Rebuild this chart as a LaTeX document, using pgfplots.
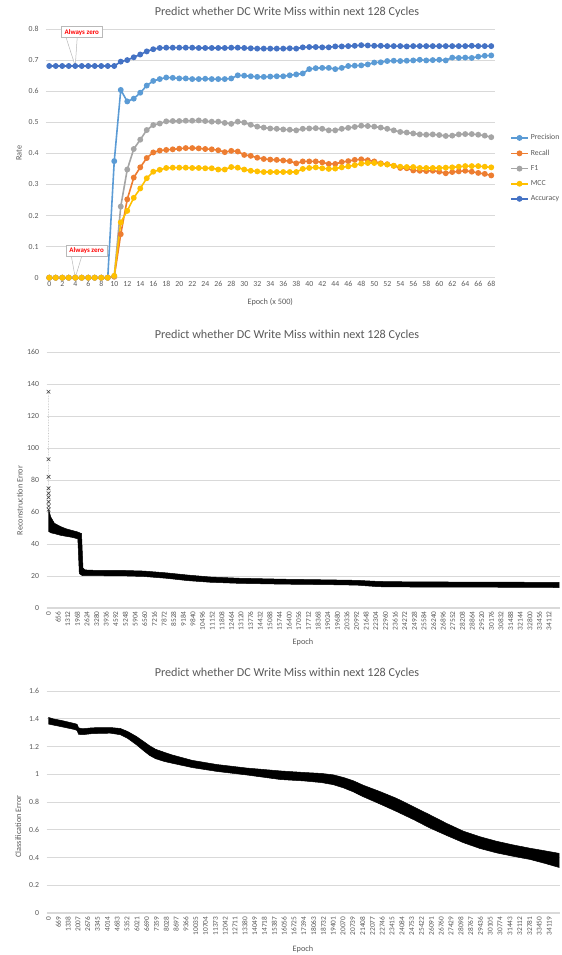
\documentclass[border=0pt]{standalone}
\usepackage{fontspec}
\setmainfont{Carlito}
\usepackage{pgfplots}
\pgfplotsset{compat=1.18}
\definecolor{txt}{HTML}{595959}
\definecolor{gridc}{HTML}{D9D9D9}
\definecolor{cPrec}{HTML}{5B9BD5}
\definecolor{cRec}{HTML}{ED7D31}
\definecolor{cF1}{HTML}{A5A5A5}
\definecolor{cMCC}{HTML}{FFC000}
\definecolor{cAcc}{HTML}{4472C4}
\pgfplotsset{
  excel/.style={
    scale only axis,
    axis line style={draw=none},
    tick style={draw=none},
    major tick length=0pt,
    ymajorgrids,
    grid style={color=gridc, line width=0.7bp},
    tick label style={font=\fontsize{7.8}{8.5}\selectfont, text=txt},
    yticklabel style={xshift=-4bp},
    label style={font=\fontsize{8.3}{9}\selectfont, text=txt},
    /pgf/number format/assume math mode=true,
    scaled x ticks=false, scaled y ticks=false,
  },
  ser/.style={color=#1, line width=1.6bp, mark=*, mark size=2.1bp, mark options={fill=#1, draw=#1}},
}
\pgfplotstableread{
x prec rec f1 mcc acc
0 0 0 0 0 0.681
1 0 0 0 0 0.681
2 0 0 0 0 0.681
3 0 0 0 0 0.681
4 0 0 0 0 0.681
5 0 0 0 0 0.681
6 0 0 0 0 0.681
7 0 0 0 0 0.681
8 0 0 0 0 0.681
9 0 0 0 0 0.681
10 0.375 0.003 0.005 0.006 0.681
11 0.604 0.140 0.229 0.178 0.695
12 0.567 0.252 0.348 0.215 0.700
13 0.576 0.322 0.414 0.257 0.709
14 0.595 0.355 0.444 0.287 0.718
15 0.618 0.385 0.475 0.320 0.728
16 0.633 0.403 0.491 0.341 0.735
17 0.639 0.409 0.496 0.347 0.739
18 0.644 0.411 0.503 0.353 0.740
19 0.643 0.413 0.504 0.354 0.740
20 0.641 0.415 0.504 0.354 0.740
21 0.641 0.417 0.505 0.354 0.740
22 0.639 0.417 0.505 0.353 0.740
23 0.639 0.416 0.506 0.353 0.739
24 0.640 0.414 0.504 0.352 0.739
25 0.639 0.413 0.502 0.352 0.739
26 0.639 0.410 0.502 0.348 0.739
27 0.639 0.404 0.498 0.348 0.739
28 0.641 0.408 0.495 0.356 0.740
29 0.651 0.406 0.502 0.354 0.740
30 0.650 0.395 0.499 0.348 0.739
31 0.648 0.392 0.492 0.344 0.738
32 0.646 0.386 0.486 0.342 0.737
33 0.646 0.382 0.483 0.340 0.737
34 0.647 0.380 0.480 0.340 0.737
35 0.648 0.379 0.479 0.340 0.737
36 0.648 0.377 0.477 0.340 0.737
37 0.651 0.375 0.476 0.340 0.738
38 0.654 0.368 0.474 0.340 0.737
39 0.657 0.374 0.479 0.350 0.741
40 0.671 0.374 0.480 0.353 0.742
41 0.674 0.374 0.481 0.355 0.742
42 0.675 0.371 0.479 0.352 0.741
43 0.675 0.366 0.474 0.350 0.741
44 0.671 0.366 0.474 0.351 0.744
45 0.675 0.372 0.479 0.355 0.744
46 0.681 0.375 0.482 0.358 0.745
47 0.682 0.379 0.485 0.362 0.746
48 0.683 0.381 0.489 0.367 0.748
49 0.686 0.378 0.488 0.369 0.747
50 0.692 0.374 0.486 0.369 0.746
51 0.693 0.368 0.483 0.366 0.746
52 0.697 0.365 0.479 0.364 0.745
53 0.698 0.360 0.474 0.360 0.745
54 0.697 0.353 0.469 0.357 0.745
55 0.698 0.352 0.467 0.356 0.744
56 0.699 0.345 0.464 0.356 0.745
57 0.701 0.344 0.461 0.353 0.745
58 0.699 0.343 0.460 0.353 0.745
59 0.700 0.344 0.461 0.353 0.745
60 0.701 0.341 0.459 0.353 0.745
61 0.699 0.336 0.456 0.354 0.745
62 0.708 0.340 0.457 0.355 0.745
63 0.707 0.342 0.461 0.357 0.745
64 0.708 0.344 0.462 0.359 0.745
65 0.707 0.341 0.462 0.359 0.746
66 0.711 0.337 0.460 0.359 0.745
67 0.714 0.334 0.457 0.357 0.745
68 0.715 0.329 0.452 0.355 0.745
}\rates
% Reconstruction error band: upper edge (left to right), then lower edge (right to left)
\pgfplotstableread{
x y
0 62
150 57
400 53
800 51
1200 49.5
1600 48.5
2000 47.5
2250 46.5
2350 25
2500 23.8
3000 23.6
5000 23.5
6500 23.1
8000 22.0
9500 20.6
11000 19.4
13000 18.6
16000 18.0
19000 17.6
21000 17.3
22500 16.6
25000 16.3
30000 16.2
34800 16.0
34800 12.8
30000 13.0
25000 13.1
22500 13.3
21000 14.3
19000 14.6
16000 14.9
13000 15.4
11000 16.1
9500 17.1
8000 18.6
6500 19.7
5000 20.1
3000 20.2
2300 20.3
2100 21.5
2000 43.2
1600 44.2
1200 44.8
800 45.5
400 46.5
150 47
0 48
}\recband
% Classification error band: upper edge, then lower edge reversed
\pgfplotstableread{
x y
0 1.410
300 1.400
1000 1.385
1800 1.365
1950 1.360
2050 1.335
2300 1.328
3000 1.335
4200 1.337
4900 1.330
5400 1.308
6000 1.272
6500 1.235
6900 1.205
7300 1.180
7900 1.158
8400 1.140
9800 1.100
11500 1.070
13500 1.045
15800 1.024
17400 1.013
18600 1.006
19400 0.996
20100 0.977
20800 0.952
21450 0.921
22600 0.875
23730 0.826
24900 0.765
26000 0.707
27150 0.645
28270 0.590
29400 0.550
30545 0.517
31700 0.490
32815 0.467
33850 0.448
34800 0.430
34800 0.328
33850 0.357
32815 0.386
31700 0.408
30545 0.433
29400 0.465
28270 0.507
27150 0.558
26000 0.612
24900 0.672
23730 0.731
22600 0.785
21450 0.838
20800 0.872
20100 0.902
19400 0.925
18600 0.940
17400 0.952
15800 0.962
13500 0.995
11500 1.020
9800 1.048
8400 1.080
7900 1.092
7300 1.112
6900 1.135
6500 1.168
6000 1.212
5400 1.258
4900 1.285
4200 1.296
3000 1.293
2300 1.285
2050 1.288
1950 1.315
1800 1.322
1000 1.340
300 1.355
0 1.362
}\clsband
\begin{document}
\begin{tikzpicture}
\useasboundingbox (0,0) rectangle (562bp,-955bp);
\node[font=\fontsize{12.2}{14}\selectfont, text=txt] at (287bp,-12.5bp) {Predict whether DC Write Miss within next 128 Cycles};
\node[font=\fontsize{12.2}{14}\selectfont, text=txt] at (287bp,-335bp) {Predict whether DC Write Miss within next 128 Cycles};
\node[font=\fontsize{12.2}{14}\selectfont, text=txt] at (287bp,-673bp) {Predict whether DC Write Miss within next 128 Cycles};

% ---------- Panel 1 ----------
\begin{axis}[excel,
  at={(46bp,-277.7bp)}, anchor=south west,
  width=448.5bp, height=248.7bp,
  xmin=-0.5, xmax=68.5, ymin=0, ymax=0.8,
  clip=false,
  xtick={0,2,4,6,8,10,12,14,16,18,20,22,24,26,28,30,32,34,36,38,40,42,44,46,48,50,52,54,56,58,60,62,64,66,68},
  ytick={0,0.1,0.2,0.3,0.4,0.5,0.6,0.7,0.8},
  yticklabels={0,0.1,0.2,0.3,0.4,0.5,0.6,0.7,0.8},
  xlabel={Epoch (x 500)}, ylabel={Rate},
  xlabel style={at={(axis description cs:0.5,-0.098)}, anchor=center},
  ylabel style={at={(axis description cs:-0.06,0.5)}, anchor=center},
  legend style={at={(axis description cs:1.0346,0.44)}, anchor=west, draw=none, fill=none,
    font=\fontsize{7.8}{8.5}\selectfont, text=txt, row sep=4.6bp, inner sep=0pt},
  legend cell align=left,
  legend image code/.code={\draw[#1, mark repeat=2, mark phase=2] plot coordinates {(0bp,0bp) (8.5bp,0bp) (17bp,0bp)};},
]
\addplot[ser=cPrec] table[x=x, y=prec] {\rates};
\addlegendentry{Precision}
\addplot[ser=cRec] table[x=x, y=rec] {\rates};
\addlegendentry{Recall}
\addplot[ser=cF1] table[x=x, y=f1] {\rates};
\addlegendentry{F1}
\addplot[ser=cMCC] table[x=x, y=mcc] {\rates};
\addlegendentry{MCC}
\addplot[ser=cAcc] table[x=x, y=acc] {\rates};
\addlegendentry{Accuracy}
\draw[gray!55, fill=white, line width=0.5bp] (axis cs:2.6,0.772) -- (axis cs:4,0.681) -- (axis cs:4.3,0.772);
\node[draw=gray!55, fill=white, line width=0.5bp, text=red, font=\bfseries\fontsize{7}{8}\selectfont, inner xsep=3.5bp, inner ysep=2.5bp] at (axis cs:5.0,0.790) {Always zero};
\draw[gray!55, fill=white, line width=0.5bp] (axis cs:3.4,0.069) -- (axis cs:4,0) -- (axis cs:5.0,0.069);
\node[draw=gray!55, fill=white, line width=0.5bp, text=red, font=\bfseries\fontsize{7}{8}\selectfont, inner xsep=3.5bp, inner ysep=2.5bp] at (axis cs:5.75,0.086) {Always zero};
\end{axis}

% ---------- Panel 2 ----------
\begin{axis}[excel,
  at={(46.5bp,-608bp)}, anchor=south west,
  width=513bp, height=256bp,
  xmin=-136, xmax=34823, ymin=0, ymax=160,
  ytick={0,20,40,60,80,100,120,140,160},
  xtick={0,656,1312,1968,2624,3280,3936,4592,5248,5904,6560,7216,7872,8528,9184,9840,10496,11152,11808,12464,13120,13776,14432,15088,15744,16400,17056,17712,18368,19024,19680,20336,20992,21648,22304,22960,23616,24272,24928,25584,26240,26896,27552,28208,28864,29520,30176,30832,31488,32144,32800,33456,34112},
  xticklabels={0,656,1312,1968,2624,3280,3936,4592,5248,5904,6560,7216,7872,8528,9184,9840,10496,11152,11808,12464,13120,13776,14432,15088,15744,16400,17056,17712,18368,19024,19680,20336,20992,21648,22304,22960,23616,24272,24928,25584,26240,26896,27552,28208,28864,29520,30176,30832,31488,32144,32800,33456,34112},
  xticklabel style={rotate=90, anchor=east, font=\fontsize{7.4}{8}\selectfont},
  extra y ticks={0}, extra y tick labels={},
  extra y tick style={grid style={color=gridc, line width=2.4bp}},
  xlabel={Epoch}, ylabel={Reconstruction Error},
  xlabel style={at={(axis description cs:0.5,-0.133)}, anchor=center},
  ylabel style={at={(axis description cs:-0.052,0.42)}, anchor=center},
]
\addplot[draw=black, fill=black, line width=0.5bp] table[x=x, y=y] {\recband};
\addplot[color=gray!45, densely dotted, line width=0.6bp, mark=x, mark size=2.6bp, mark options={solid, draw=black!75, line width=0.6bp}] coordinates {(0,135.2) (1,93) (2,82) (3,74.8) (4,71.7) (5,69.2) (6,66.4) (7,63.7) (8,61.5)};
\end{axis}

% ---------- Panel 3 ----------
\begin{axis}[excel,
  at={(46.5bp,-913bp)}, anchor=south west,
  width=513bp, height=222bp,
  xmin=-136, xmax=34823, ymin=0, ymax=1.6,
  ytick={0,0.2,0.4,0.6,0.8,1,1.2,1.4,1.6},
  yticklabels={0,0.2,0.4,0.6,0.8,1,1.2,1.4,1.6},
  xtick={0,669,1338,2007,2676,3345,4014,4683,5352,6021,6690,7359,8028,8697,9366,10035,10704,11373,12042,12711,13380,14049,14718,15387,16056,16725,17394,18063,18732,19401,20070,20739,21408,22077,22746,23415,24084,24753,25422,26091,26760,27429,28098,28767,29436,30105,30774,31443,32112,32781,33450,34119},
  xticklabels={0,669,1338,2007,2676,3345,4014,4683,5352,6021,6690,7359,8028,8697,9366,10035,10704,11373,12042,12711,13380,14049,14718,15387,16056,16725,17394,18063,18732,19401,20070,20739,21408,22077,22746,23415,24084,24753,25422,26091,26760,27429,28098,28767,29436,30105,30774,31443,32112,32781,33450,34119},
  xticklabel style={rotate=90, anchor=east, font=\fontsize{7.4}{8}\selectfont},
  extra y ticks={0}, extra y tick labels={},
  extra y tick style={grid style={color=gridc, line width=2.4bp}},
  xlabel={Epoch}, ylabel={Classification Error},
  xlabel style={at={(axis description cs:0.5,-0.162)}, anchor=center},
  ylabel style={at={(axis description cs:-0.055,0.39)}, anchor=center},
]
\addplot[draw=black, fill=black, line width=0.5bp] table[x=x, y=y] {\clsband};
\end{axis}
\end{tikzpicture}
\end{document}
